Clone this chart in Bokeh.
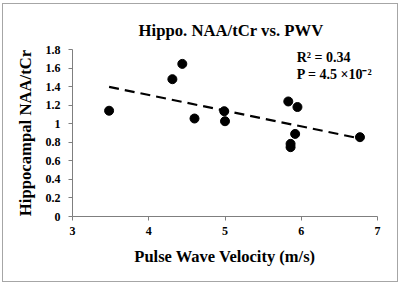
import numpy as np
from bokeh.plotting import figure
from bokeh.models import Range1d, Label, FixedTicker
from bokeh.embed import file_html
from bokeh.resources import INLINE

pwv = [3.48, 4.31, 4.44, 4.60, 4.99, 5.00, 5.83, 5.95, 5.92, 5.86, 5.86, 6.77]
naa = [1.14, 1.48, 1.645, 1.056, 1.135, 1.027, 1.24, 1.18, 0.89, 0.783, 0.747, 0.855]
x_ticks = [3, 4, 5, 6, 7]
y_ticks = [0, 0.2, 0.4, 0.6, 0.8, 1, 1.2, 1.4, 1.6, 1.8]
title_text = "Hippo. NAA/tCr vs. PWV"
x_label = "Pulse Wave Velocity (m/s)"
y_label = "Hippocampal NAA/tCr"
stats = ["R\u00b2 = 0.34", "P = 4.5 \u00d710\u207b\u00b2"]

FONT = "Liberation Serif"

p = figure(width=396, height=279, output_backend="svg", toolbar_location=None,
           x_range=Range1d(3, 7), y_range=Range1d(0, 1.8),
           min_border_left=69, min_border_right=22, min_border_top=45, min_border_bottom=67,
           background_fill_color="white", border_fill_color="white")
p.styles = {"border": "1px solid #a6a6a6", "margin-left": "2px", "margin-top": "3px"}
p.outline_line_color = None
p.grid.visible = False

p.title.text = title_text
p.title.text_font = FONT
p.title.text_font_size = "16.7px"
p.title.text_font_style = "bold"
p.title.text_color = "black"
p.title.align = "center"
p.title.offset = -15
p.title.standoff = 20
p.title.padding = (12, 0, 0, 0)

for ax in (p.xaxis[0], p.yaxis[0]):
    ax.major_label_text_font = FONT
    ax.major_label_text_font_style = "bold"
    ax.major_label_text_font_size = "12px"
    ax.major_label_text_color = "black"
    ax.axis_label_text_font = FONT
    ax.axis_label_text_font_style = "bold"
    ax.axis_label_text_color = "black"
    ax.axis_line_color = "#7f7f7f"
    ax.axis_line_width = 1
    ax.major_tick_line_color = "#7f7f7f"
    ax.major_tick_out = 4
    ax.major_tick_in = 0
    ax.minor_tick_line_color = None

p.xaxis.axis_label_text_font_size = "16.5px"
p.yaxis.axis_label_text_font_size = "16.7px"
p.xaxis.ticker = FixedTicker(ticks=x_ticks)
p.yaxis.ticker = FixedTicker(ticks=y_ticks)
p.xaxis.major_label_overrides = {t: str(t) for t in x_ticks}
p.yaxis.major_label_overrides = {t: ("0" if t == 0 else ("%g" % t)) for t in y_ticks}
p.xaxis.axis_label = x_label
p.yaxis.axis_label = y_label
p.xaxis.major_label_standoff = 6
p.yaxis.major_label_standoff = 8
p.xaxis.axis_label_standoff = 9
p.yaxis.axis_label_standoff = 8

# linear trend line from least squares fit of the data
xs = np.array(pwv)
ys = np.array(naa)
slope, intercept = np.polyfit(xs, ys, 1)
tx = np.array([xs.min(), xs.max()])
p.line(tx, slope * tx + intercept, line_color="black", line_width=2.2, line_dash="10 6")

p.scatter(pwv, naa, size=9, color="black")

p.add_layout(Label(x=5.94, y=1.713, text=stats[0], text_font=FONT, text_font_style="bold",
                   text_font_size="14px", text_color="black", text_baseline="alphabetic"))
p.add_layout(Label(x=5.94, y=1.53, text=stats[1], text_font=FONT, text_font_style="bold",
                   text_font_size="14px", text_color="black", text_baseline="alphabetic"))

open("out.html", "w").write(file_html(p, INLINE))
